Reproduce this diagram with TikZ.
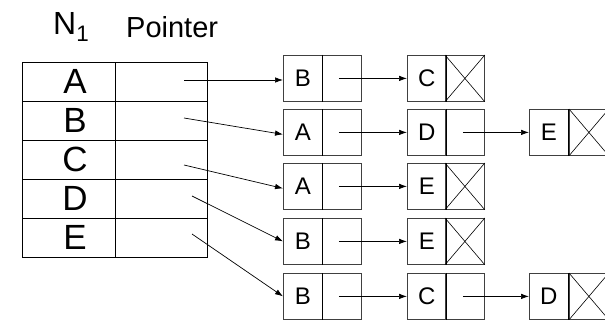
\documentclass[tikz,border=0pt]{standalone}
\usepackage{fontspec}
\setmainfont{Liberation Sans}
\usetikzlibrary{arrows.meta}
\begin{document}
\begin{tikzpicture}[x=1pt,y=-1pt,
  tcell/.style={draw=black,line width=0.9pt,minimum width=93pt,minimum height=39pt,inner sep=0pt,anchor=north west},
  tlabel/.style={font=\fontsize{35}{35}\selectfont,inner sep=0pt},
  half/.style={draw=black!75,line width=0.8pt,minimum width=39pt,minimum height=46pt,inner sep=0pt,anchor=north west,font=\fontsize{24}{24}\selectfont},
  link/.style={line width=0.7pt,-{Latex[length=8pt,width=5.5pt]}},
  nilcross/.style={line width=0.6pt}]
\useasboundingbox (0,0) rectangle (605,321);

% header
\node[anchor=base west,inner sep=0pt,font=\fontsize{32}{32}\selectfont] (hN) at (53,35) {N$_{\fontsize{22}{22}\selectfont\mathrm{1}}$};
\node[anchor=base west,inner sep=0pt,font=\fontsize{29}{29}\selectfont] (hP) at (126,38) {Pointer};

% table N1 / Pointer
\foreach \l [count=\i from 0] in {A,B,C,D,E}{
  \node[tcell] (n\l) at (22,{62+39*\i}) {};
  \node[tlabel] (l\l) at ([xshift=6pt]n\l.center) {\l};
  \node[tcell,minimum width=92pt] (p\l) at (115,{62+39*\i}) {};
}
\coordinate (sA) at (184,80);
\coordinate (sB) at (184,118);
\coordinate (sC) at (184,165);
\coordinate (sD) at (192,196);
\coordinate (sE) at (192,234);

% row A
\node[half] (a1) at (283,55) {B};  \node[half] (a1p) at (322,55) {};
\node[half] (a2) at (407,55) {C};  \node[half] (a2p) at (445,55) {};
% row B
\node[half] (b1) at (283,109) {A}; \node[half] (b1p) at (322,109) {};
\node[half] (b2) at (407,109) {D}; \node[half] (b2p) at (445,109) {};
\node[half] (b3) at (529,109) {E}; \node[half] (b3p) at (569,109) {};
% row C
\node[half] (c1) at (283,163) {A}; \node[half] (c1p) at (322,163) {};
\node[half] (c2) at (407,163) {E}; \node[half] (c2p) at (445,163) {};
% row D
\node[half] (d1) at (283,218) {B}; \node[half] (d1p) at (322,218) {};
\node[half] (d2) at (407,218) {E}; \node[half] (d2p) at (445,218) {};
% row E
\node[half] (e1) at (283,273) {B}; \node[half] (e1p) at (322,273) {};
\node[half] (e2) at (407,273) {C}; \node[half] (e2p) at (445,273) {};
\node[half] (e3) at (529,273) {D}; \node[half] (e3p) at (569,273) {};

% dividers in black
\foreach \n in {a1,a2,b1,b2,b3,c1,c2,d1,d2,e1,e2,e3}
  \draw[black,line width=0.9pt] (\n.north east) -- (\n.south east);

% null pointers
\foreach \n in {a2p,c2p,d2p,b3p,e3p}{
  \draw[nilcross] (\n.north west) -- (\n.south east);
  \draw[nilcross] (\n.south west) -- (\n.north east);
}

% pointers from the table
\draw[link] (sA) -- (a1.west |- sA);
\draw[link] (sB) -- ([yshift=-2pt]b1.west);
\draw[link] (sC) -- ([yshift=-2pt]c1.west);
\draw[link] (sD) -- (d1.west);
\draw[link] (sE) -- (e1.west);

% links between list nodes
\foreach \p/\q in {a1p/a2,b1p/b2,c1p/c2,d1p/d2,e1p/e2}
  \draw[link] ([xshift=-3pt]\p.center) -- (\q.west);
\foreach \p/\q in {b2p/b3,e2p/e3}
  \draw[link] ([xshift=-2pt]\p.center) -- (\q.west);
\end{tikzpicture}
\end{document}
